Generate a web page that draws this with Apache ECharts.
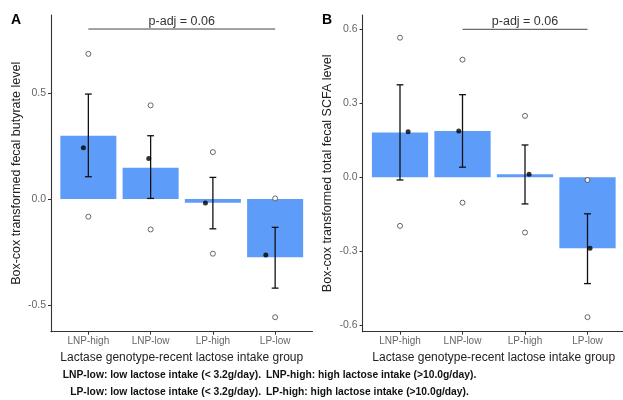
<!DOCTYPE html>
<html><head><meta charset="utf-8">
<script src="https://cdn.jsdelivr.net/npm/echarts@6/dist/echarts.min.js"></script>
<style>html,body{margin:0;padding:0;background:#fff}#c{width:623px;height:400px}</style>
</head><body><div id="c"></div>
<script>
// ---- data ----
const categories = ['LNP-high', 'LNP-low', 'LP-high', 'LP-low'];

// Panel A: fecal butyrate
const butyrateMean  = [0.298, 0.147, -0.017, -0.274];
const butyrateUpper = [0.494, 0.298, 0.102, -0.133];
const butyrateLower = [0.105, 0.003, -0.140, -0.419];
const butyrateDot   = [0.241, 0.191, -0.019, -0.263];
const butyrateDotJitter = [-0.08, -0.03, -0.12, -0.15];
const butyrateOpenHigh = [0.683, 0.441, 0.221, 0.003];
const butyrateOpenLow  = [-0.083, -0.143, -0.257, -0.556];
const butyrateTicks = [-0.5, 0, 0.5];
const butyrateBracket = [1, 4, 0.80, 'p-adj = 0.06'];

// Panel B: total fecal SCFA
const scfaMean  = [0.182, 0.188, 0.012, -0.288];
const scfaUpper = [0.375, 0.335, 0.131, -0.148];
const scfaLower = [-0.011, 0.041, -0.108, -0.431];
const scfaDot   = [0.185, 0.188, 0.012, -0.288];
const scfaDotJitter = [0.13, -0.06, 0.065, 0.04];
const scfaOpenHigh = [0.566, 0.477, 0.249, -0.011];
const scfaOpenLow  = [-0.197, -0.103, -0.224, -0.567];
const scfaTicks = [-0.6, -0.3, 0, 0.3, 0.6];
const scfaBracket = [2, 4, 0.60, 'p-adj = 0.06'];

const legendLeft = ['LNP-low: low lactose intake (< 3.2g/day).', 'LP-low: low lactose intake (< 3.2g/day).'];
const legendRight = ['LNP-high: high lactose intake (>10.0g/day).', 'LP-high: high lactose intake (>10.0g/day).'];

// ---- chart ----
const FONT = '"Liberation Sans", Arial, Helvetica, sans-serif';
const BAR = '#5E9CF9';
const chart = echarts.init(document.getElementById('c'), null, {renderer: 'canvas'});

function xAxisCfg(gi) {
  return {
    gridIndex: gi, type: 'value', min: 0.4, max: 4.6,
    splitLine: {show: false},
    axisLine: {show: true, onZero: false, lineStyle: {color: '#333', width: 1.1}},
    axisTick: {show: true, length: 3, lineStyle: {color: '#333'}, customValues: [1, 2, 3, 4]},
    axisLabel: {customValues: [1, 2, 3, 4], formatter: v => categories[Math.round(v) - 1],
      color: '#666', fontSize: 10, fontFamily: FONT, margin: 5},
    name: 'Lactase genotype-recent lactose intake group', nameLocation: 'middle', nameGap: 14,
    nameTextStyle: {color: '#222', fontSize: 12, fontFamily: FONT}
  };
}
function yAxisCfg(gi, min, max, ticks, name) {
  return {
    gridIndex: gi, type: 'value', min: min, max: max,
    splitLine: {show: false},
    axisLine: {show: true, onZero: false, lineStyle: {color: '#333', width: 1.1}},
    axisTick: {show: true, length: 3, lineStyle: {color: '#333'}, customValues: ticks},
    axisLabel: {customValues: ticks, formatter: v => v.toFixed(1), color: '#666', fontSize: 10.5, fontFamily: FONT, margin: 5},
    name: name, nameLocation: 'middle', nameGap: 28,
    nameTextStyle: {color: '#222', fontSize: 12.5, fontFamily: FONT}
  };
}

function barSeries(gi, means) {
  return {
    type: 'custom', xAxisIndex: gi, yAxisIndex: gi, z: 1,
    data: means.map((m, i) => [i + 1, m]),
    renderItem: (params, api) => {
      const x = api.value(0), y = api.value(1);
      const p0 = api.coord([x - 0.45, y]);
      const p1 = api.coord([x + 0.45, 0]);
      return {type: 'rect', shape: {x: p0[0], y: Math.min(p0[1], p1[1]), width: p1[0] - p0[0], height: Math.abs(p1[1] - p0[1])},
        style: {fill: BAR}};
    }
  };
}
function errSeries(gi, lower, upper) {
  return {
    type: 'custom', xAxisIndex: gi, yAxisIndex: gi, z: 3,
    data: lower.map((l, i) => [i + 1, l, upper[i]]),
    renderItem: (params, api) => {
      const x = api.value(0);
      const lo = api.coord([x, api.value(1)]);
      const hi = api.coord([x, api.value(2)]);
      const capL = api.coord([x - 0.055, 0])[0], capR = api.coord([x + 0.055, 0])[0];
      const st = {stroke: '#111', lineWidth: 1.3};
      return {type: 'group', children: [
        {type: 'line', shape: {x1: lo[0], y1: lo[1], x2: hi[0], y2: hi[1]}, style: st},
        {type: 'line', shape: {x1: capL, y1: lo[1], x2: capR, y2: lo[1]}, style: st},
        {type: 'line', shape: {x1: capL, y1: hi[1], x2: capR, y2: hi[1]}, style: st}
      ]};
    }
  };
}
function openSeries(gi, hi, lo) {
  return {
    type: 'scatter', xAxisIndex: gi, yAxisIndex: gi, z: 4, symbol: 'circle', symbolSize: 5,
    itemStyle: {color: '#fff', borderColor: '#444', borderWidth: 1},
    data: hi.map((v, i) => [i + 1, v]).concat(lo.map((v, i) => [i + 1, v])),
    emphasis: {disabled: true}
  };
}
function dotSeries(gi, vals, jit) {
  return {
    type: 'scatter', xAxisIndex: gi, yAxisIndex: gi, z: 5, symbol: 'circle', symbolSize: 5,
    itemStyle: {color: '#000'},
    data: vals.map((v, i) => [i + 1 + jit[i], v]),
    emphasis: {disabled: true}
  };
}
function bracketSeries(gi, b) {
  return {
    type: 'custom', xAxisIndex: gi, yAxisIndex: gi, z: 6, clip: false,
    data: [[b[0], b[1], b[2]]],
    renderItem: (params, api) => {
      const a = api.coord([api.value(0), api.value(2)]);
      const c = api.coord([api.value(1), api.value(2)]);
      return {type: 'group', children: [
        {type: 'line', shape: {x1: a[0], y1: a[1], x2: c[0], y2: c[1]}, style: {stroke: '#444', lineWidth: 1}},
        {type: 'text', x: (a[0] + c[0]) / 2, y: a[1] - 1,
          style: {text: b[3], fill: '#333', font: '12.5px ' + FONT, textAlign: 'center', textVerticalAlign: 'bottom'}}
      ]};
    }
  };
}

const LEG_FONT = 'bold 10.3px ' + FONT;
const option = {
  animation: false,
  backgroundColor: '#fff',
  grid: [
    {left: 51, top: 15, width: 261.5, height: 316.7, outerBoundsMode: 'none', containLabel: false},
    {left: 362.5, top: 15, width: 262.5, height: 316.7, outerBoundsMode: 'none', containLabel: false}
  ],
  xAxis: [xAxisCfg(0), xAxisCfg(1)],
  yAxis: [
    yAxisCfg(0, -0.624, 0.866, butyrateTicks, 'Box-cox transformed fecal butyrate level'),
    yAxisCfg(1, -0.626, 0.658, scfaTicks, 'Box-cox transformed total fecal SCFA level')
  ],
  series: [
    barSeries(0, butyrateMean), errSeries(0, butyrateLower, butyrateUpper),
    openSeries(0, butyrateOpenHigh, butyrateOpenLow), dotSeries(0, butyrateDot, butyrateDotJitter),
    bracketSeries(0, butyrateBracket),
    barSeries(1, scfaMean), errSeries(1, scfaLower, scfaUpper),
    openSeries(1, scfaOpenHigh, scfaOpenLow), dotSeries(1, scfaDot, scfaDotJitter),
    bracketSeries(1, scfaBracket)
  ],
  graphic: [
    {type: 'text', left: 11, top: 13, style: {text: 'A', font: 'bold 14px ' + FONT, fill: '#000'}},
    {type: 'text', left: 322, top: 13, style: {text: 'B', font: 'bold 14px ' + FONT, fill: '#000'}},
    {type: 'text', x: 261, y: 375, style: {text: legendLeft[0], font: LEG_FONT, fill: '#111', textAlign: 'right', textVerticalAlign: 'middle'}},
    {type: 'text', x: 261, y: 392, style: {text: legendLeft[1], font: LEG_FONT, fill: '#111', textAlign: 'right', textVerticalAlign: 'middle'}},
    {type: 'text', x: 266, y: 375, style: {text: legendRight[0], font: LEG_FONT, fill: '#111', textAlign: 'left', textVerticalAlign: 'middle'}},
    {type: 'text', x: 266, y: 392, style: {text: legendRight[1], font: LEG_FONT, fill: '#111', textAlign: 'left', textVerticalAlign: 'middle'}}
  ]
};
chart.setOption(option);
</script></body></html>
